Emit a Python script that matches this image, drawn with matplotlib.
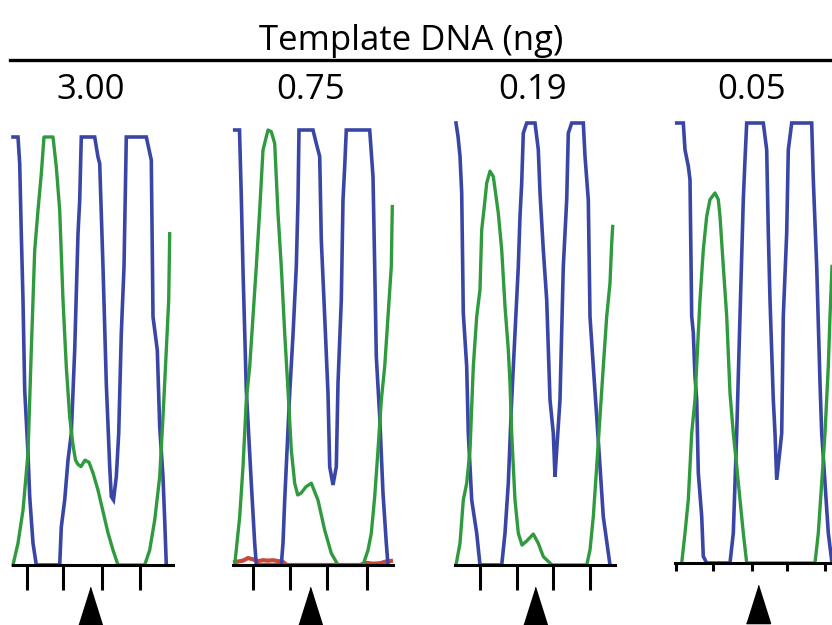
import numpy as np
import matplotlib
matplotlib.use("Agg")
import matplotlib.pyplot as plt
from matplotlib.lines import Line2D

# template amounts (ng) shown above each electropherogram
amounts = ["3.00", "0.75", "0.19", "0.05"]

# dye traces, scan position vs. relative fluorescence (100 = display cap)
blue_x_300 = [0, 5, 6.7, 8.3, 10, 11.7, 15, 16.7, 20, 23.3, 46.7, 48.3, 51.7, 55, 58.3, 61.7, 65, 66.7,
              68.3, 81.7, 85, 86.7, 90, 93.3, 96.7, 98.3, 100.5, 103.3, 105.7, 108.3, 111, 113.3, 133.3,
              138.3, 140, 144.3, 146.7, 150, 151.7, 153.3]
blue_y_300 = [100, 100, 93.8, 77.4, 61.9, 40.9, 26.1, 16.0, 5.1, 0, 0, 8.9, 15.2, 24.5, 30.7, 50.2, 77.4, 85.2,
              100, 100, 95.3, 93.8, 69.6, 42.4, 23.0, 16.0, 15.2, 20.6, 30.7, 54.1, 69.6, 100, 100,
              94.6, 58.0, 50.2, 32.3, 20.6, 10.5, 0]
green_x_300 = [0, 5, 10, 15, 18.3, 21.7, 25, 28.3, 31, 40, 43.3, 46.7, 50, 53.3, 56.7, 60, 62.5, 65, 68,
               72, 76, 80, 85, 90, 95, 100, 105, 131.7, 136.7, 141.7, 146.7, 150, 153.3, 155.7, 156.7]
green_y_300 = [0, 5.1, 12.8, 26.1, 50.2, 73.5, 82.9, 91.4, 100, 100, 93, 82.9, 61.9, 46.3, 34.6, 28,
               24.5, 23.5, 23.0, 24.5, 24.0, 21.5, 17.5, 12.5, 7.5, 3.5, 0, 0, 3.5, 10.5, 20.6, 34.6,
               50.2, 61.9, 77.4]

blue_x_075 = [1.7, 6.5, 8.3, 10, 13.3, 18.3, 21.7, 23.3, 48.3, 50, 51.7, 56.7, 60, 63.3, 65, 66, 80, 83.3,
              86.7, 88.3, 91.7, 95, 96.7, 100, 103.3, 105, 108.3, 110, 111.7, 113.3, 136.7, 140, 141.7,
              143.3, 146.7, 150, 153.3, 155]
blue_y_075 = [100, 100, 84.7, 67.8, 40.2, 18.8, 5.0, 0, 0, 5, 14.9, 39.5, 52.9, 68.6, 83.9, 100, 100, 96.9,
              93.9, 74.7, 57.1, 39.5, 22.6, 18.4, 22.6, 41.8, 60.9, 83.9, 91.6, 100, 100, 89.3, 68.6,
              47.9, 34.1, 16.5, 5, 0]
green_x_075 = [1.7, 6.7, 10, 13.3, 16.7, 20, 23.3, 26.7, 30, 35, 38.3, 41.7, 45, 48.3, 51.7, 55, 58.3,
               61.7, 64.7, 68, 73, 78.3, 85, 91.7, 98.3, 105, 130, 135, 138.3, 141.7, 145, 148.3, 151.7,
               155, 158.3, 159.3]
green_y_075 = [0, 11.1, 22.6, 37.9, 45.6, 57.1, 68.6, 81.6, 95.4, 100, 99.6, 96.9, 80.8, 68.6, 53.3, 40.2,
               26.4, 18.8, 16.1, 16.5, 18.0, 18.8, 14.9, 8.0, 2.7, 0, 0, 3.4, 7.3, 15.7, 26.4, 37.9, 45.6,
               57.1, 68.6, 82.4]
red_x_075 = [0, 5, 10, 15, 20, 25, 30, 35, 40, 45, 50, 54, 127, 133, 140, 147, 153, 160]
red_y_075 = [0.6, 0.8, 1.0, 1.6, 1.3, 0.9, 1.1, 1.0, 1.1, 0.9, 0.7, 0, 0, 0.5, 0.3, 0.4, 0.8, 1.0]

blue_x_019 = [1, 3, 5, 6.7, 8.3, 11.7, 13.3, 15, 16.7, 21.7, 25, 46.7, 50, 53.3, 56.7, 60, 63.3, 65, 66.7,
              68.3, 71.7, 80, 83.3, 85, 88.3, 91.7, 95, 98.3, 100, 101.7, 105, 108.3, 111.7, 113.3, 116.7,
              128.3, 130, 133.3, 135, 138.3, 141.7, 145, 148.3, 155]
blue_y_019 = [100, 97, 92.5, 84.2, 57.0, 44.9, 29.8, 22.3, 14.7, 7.2, 0, 0, 7.2, 18.5, 37.4, 52.5, 67.5,
              78.9, 86.4, 97.7, 100, 100, 94, 84.2, 71.3, 60, 37.4, 29.8, 20, 26, 37.4, 67.5, 82.6, 97.7,
              100, 100, 92.5, 82.6, 56.2, 44.9, 33.6, 22.3, 10.9, 0]
green_x_019 = [1, 5, 8.3, 11.7, 15, 18.3, 21.7, 25, 26.7, 30, 31.7, 35, 38.3, 43.3, 46.7, 50, 53.3, 55,
               56.7, 58.3, 60, 63.3, 67, 72, 78.3, 83.3, 88.3, 97, 131.7, 135, 138.3, 141.7, 145, 148.3,
               151.7, 155, 156.7, 157.7]
green_y_019 = [0, 4.9, 14.7, 18.5, 26, 44.9, 56.2, 62.3, 75.8, 82.6, 86.4, 89.1, 87.9, 79.6, 71.3, 58.5,
               48.7, 41.1, 29.8, 22.3, 14.7, 7.2, 4.5, 5.5, 7.0, 4.9, 1.9, 0, 0, 3.4, 10.9, 22.3, 33.6,
               44.9, 56.2, 63.8, 72.8, 76.6]

blue_x_005 = [1.7, 8.3, 10, 13.3, 15, 16.7, 18.3, 20, 21.7, 23.3, 26.7, 28.3, 31.7, 55, 58.3, 61.7, 65,
              68.3, 70, 71.7, 88.3, 91.7, 93.3, 95, 98.3, 100, 101.7, 105, 106.7, 108.3, 111.7, 113.3,
              116.7, 136.7, 138.3, 141.7, 145, 146.7, 150, 153.3, 157]
blue_y_005 = [100, 100, 93.9, 90.2, 87.1, 56.1, 52.3, 42.4, 37.1, 20.5, 10.6, 1.5, 0, 0, 6.8, 29.5, 56.1,
              82.6, 91.7, 100, 100, 93.9, 75, 59.8, 37.1, 29.5, 18.9, 25.8, 29.5, 56.1, 75, 93.9, 100,
              100, 87.1, 67.4, 40.9, 29.5, 18.2, 6.8, 0]
green_x_005 = [6.7, 10, 13.3, 16.7, 20, 23.3, 25, 28.3, 31.7, 35, 40, 43.3, 45, 48.3, 51.7, 55, 58.3,
               61.7, 65, 68.3, 71.7, 140, 143.3, 146.7, 150, 153.3, 155, 157]
green_y_005 = [0, 6.8, 14.4, 29.5, 37.1, 52.3, 59.8, 71.2, 78.8, 82.6, 84.1, 82.6, 78.8, 67.4, 56.1, 38.6,
               29.5, 22, 14.4, 6.8, 0, 0, 6.8, 18.2, 29.5, 44.7, 56.1, 67.4]

# base positions marked under each trace, and the variant position (arrowhead)
ticks_300 = [14, 50, 89, 127]
ticks_075 = [20, 57, 94, 134]
ticks_019 = [25, 62, 98, 135]
ticks_005 = [1, 38, 77, 112, 150]
snp_pos = [77, 77, 80, 83]

BLUE = "#3a46a6"
GREEN = "#2f9a3e"
RED = "#c8483a"

W, H = 832, 625
fig = plt.figure(figsize=(W / 100, H / 100), dpi=100)
font = ["Open Sans", "DejaVu Sans"]

# panel boxes in pixels: left, baseline (from top), height, width
boxes = [(13, 565, 428, 160), (233, 565, 435, 160), (455, 565, 442, 160), (675, 563, 440, 157)]
blues = [(blue_x_300, blue_y_300), (blue_x_075, blue_y_075), (blue_x_019, blue_y_019), (blue_x_005, blue_y_005)]
greens = [(green_x_300, green_y_300), (green_x_075, green_y_075), (green_x_019, green_y_019),
          (green_x_005, green_y_005)]
ticks = [ticks_300, ticks_075, ticks_019, ticks_005]
tick_len = [18, 18, 18, 6]

for i, (left, base, hgt, wid) in enumerate(boxes):
    ax = fig.add_axes([left / W, (H - base) / H, wid / W, hgt / H])
    ax.set_xlim(0, wid)
    ax.set_ylim(0, 100)
    ax.patch.set_alpha(0)
    for s in ["top", "left", "right"]:
        ax.spines[s].set_visible(False)
    ax.spines["bottom"].set_linewidth(2.2)
    ax.set_yticks([])
    ax.set_xticks(ticks[i])
    ax.set_xticklabels([])
    ax.tick_params(axis="x", direction="out", length=tick_len[i], width=2.2, color="black")

    if i == 1:
        ax.plot(red_x_075, red_y_075, color=RED, lw=3, clip_on=False, solid_capstyle="butt")
    bx, by = blues[i]
    ax.plot(bx, by, color=BLUE, lw=2.6, clip_on=False, solid_joinstyle="miter")
    gx, gy = greens[i]
    ax.plot(gx, gy, color=GREEN, lw=2.4, clip_on=False)

    # arrowhead marking the variant base
    arrow_y = -41 / hgt * 100
    ax.plot([snp_pos[i]], [arrow_y], marker=[(-0.63, -1), (0.63, -1), (0, 1)], ms=27.5,
            color="black", clip_on=False)

    fig.text((left + wid / 2 - 2) / W, 1 - 99 / H, amounts[i], ha="center", va="baseline",
             fontsize=25, family=font)

fig.text(411 / W, 1 - 50 / H, "Template DNA (ng)", ha="center", va="baseline", fontsize=25, family=font)
fig.add_artist(Line2D([10 / W, 1.0], [1 - 60 / H, 1 - 60 / H], color="black", lw=2.4))

fig.savefig("out.png", dpi=100)
